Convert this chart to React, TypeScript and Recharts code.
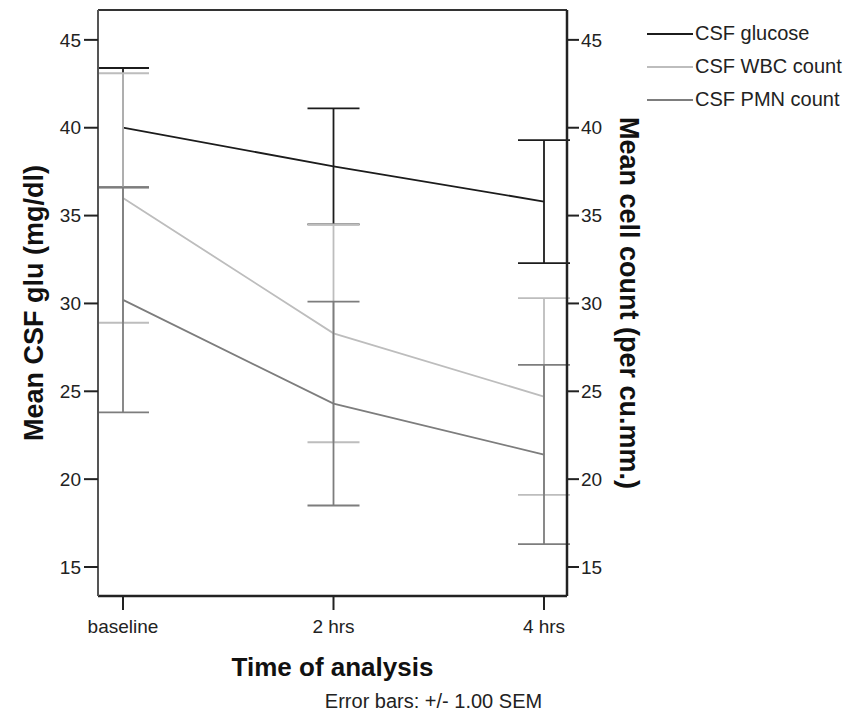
import { ErrorBar, Label, Legend, Line, LineChart, ReferenceLine, XAxis, YAxis } from 'recharts'

const timePoints = ['baseline', '2 hrs', '4 hrs']
const glucoseMean = [40.0, 37.8, 35.8]
const glucoseSem = [3.4, 3.3, 3.5]
const wbcMean = [36.0, 28.3, 24.7]
const wbcSem = [7.1, 6.2, 5.6]
const pmnMean = [30.2, 24.3, 21.4]
const pmnSem = [6.4, 5.8, 5.1]
const yTicks = [15, 20, 25, 30, 35, 40, 45]
const yDomain: [number, number] = [13.35, 46.7]

const series = [
  { key: 'glu', err: 'gluErr', name: 'CSF glucose', color: '#1c1c1c', axis: 'left' },
  { key: 'wbc', err: 'wbcErr', name: 'CSF WBC count', color: '#bdbdbd', axis: 'right' },
  { key: 'pmn', err: 'pmnErr', name: 'CSF PMN count', color: '#7d7d7d', axis: 'right' },
]

const data = timePoints.map((t, i) => ({
  time: t,
  glu: glucoseMean[i],
  gluErr: glucoseSem[i],
  wbc: wbcMean[i],
  wbcErr: wbcSem[i],
  pmn: pmnMean[i],
  pmnErr: pmnSem[i],
}))

const font = '"Liberation Sans", Arial, sans-serif'
const tickStyle = { fontSize: 19, fill: '#222', fontFamily: font }
const titleStyle = { fontSize: 27, fontWeight: 700, fill: '#111', fontFamily: font }

function LegendBox() {
  return (
    <div style={{ fontFamily: font, fontSize: 20, color: '#222' }}>
      {series.map((s) => (
        <div key={s.key} style={{ display: 'flex', alignItems: 'center', height: 33 }}>
          <div style={{ width: 46, height: 0, borderTop: `2px solid ${s.color}` }} />
          <span style={{ marginLeft: 2 }}>{s.name}</span>
        </div>
      ))}
    </div>
  )
}

export default function App() {
  return (
    <div style={{ position: 'absolute', left: 0, top: 0, background: '#fff' }}>
      <LineChart width={867} height={715} data={data} margin={{ top: 10, right: 240, bottom: 79, left: 38 }}>
        <XAxis
          dataKey="time"
          padding={{ left: 25, right: 23 }}
          tickSize={14}
          tickMargin={10}
          tick={tickStyle}
          stroke="#222"
          axisLine={{ stroke: '#222', strokeWidth: 2.5 }}
          tickLine={{ stroke: '#222', strokeWidth: 2 }}
          height={40}
        >
          <Label value="Time of analysis" position="center" dy={51} style={{ ...titleStyle, fontSize: 26 }} />
          <Label value="Error bars: +/- 1.00 SEM" position="center" dx={101} dy={85} style={{ ...tickStyle, fontSize: 20 }} />
        </XAxis>
        <YAxis
          yAxisId="left"
          domain={yDomain}
          ticks={yTicks}
          allowDataOverflow
          width={60}
          tickSize={14}
          tickMargin={3}
          tick={tickStyle}
          axisLine={{ stroke: '#555', strokeWidth: 2 }}
          tickLine={{ stroke: '#222', strokeWidth: 2 }}
        >
          <Label value="Mean CSF glu (mg/dl)" angle={-90} position="center" dx={-35} style={titleStyle} />
        </YAxis>
        <YAxis
          yAxisId="right"
          orientation="right"
          domain={yDomain}
          ticks={yTicks}
          allowDataOverflow
          width={60}
          tickSize={12}
          tickMargin={2}
          tick={tickStyle}
          axisLine={{ stroke: '#222', strokeWidth: 2.5 }}
          tickLine={{ stroke: '#222', strokeWidth: 2 }}
        >
          <Label value="Mean cell count (per cu.mm.)" angle={90} position="center" dx={33} style={titleStyle} />
        </YAxis>
        <ReferenceLine yAxisId="left" y={yDomain[1]} stroke="#333" strokeWidth={2} />
        <Legend
          layout="horizontal"
          verticalAlign="middle"
          align="center"
          content={<LegendBox />}
          wrapperStyle={{ position: 'absolute', left: 647, top: 17, width: 220 }}
        />
        {series.map((s) => (
          <Line
            key={s.key}
            yAxisId={s.axis}
            type="linear"
            dataKey={s.key}
            name={s.name}
            stroke={s.color}
            strokeWidth={1.8}
            dot={false}
            activeDot={false}
            isAnimationActive={false}
          >
            <ErrorBar dataKey={s.err} width={26} stroke={s.color} strokeWidth={1.8} direction="y" />
          </Line>
        ))}
      </LineChart>
    </div>
  )
}
